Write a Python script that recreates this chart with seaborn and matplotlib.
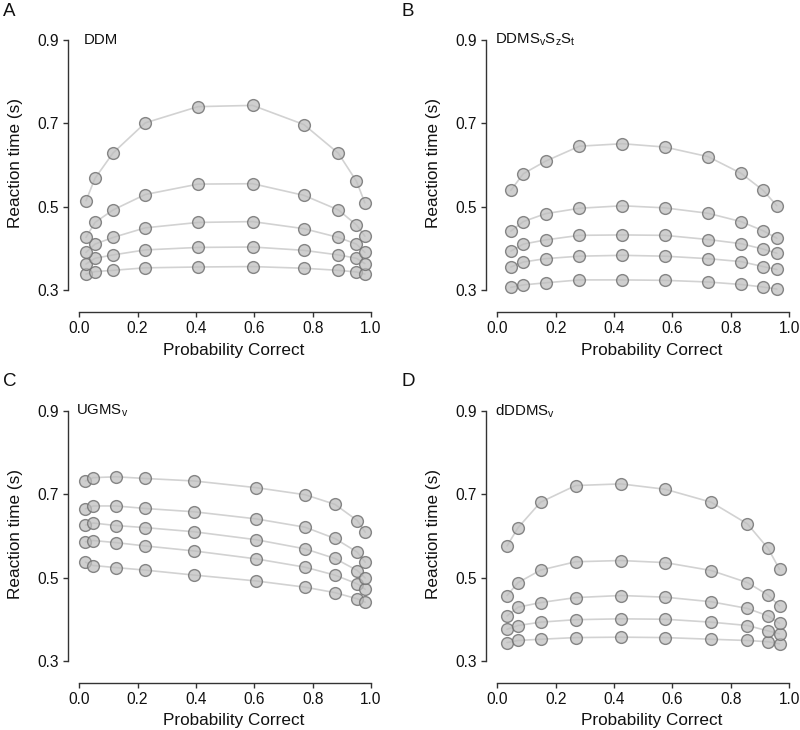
import numpy as np
import pandas as pd
import matplotlib
matplotlib.use("Agg")
import matplotlib.pyplot as plt
import seaborn as sns

# ---------------- data ----------------
quantiles = ["q10", "q30", "q50", "q70", "q90"]

ddm_p = [0.023, 0.054, 0.116, 0.226, 0.407, 0.594, 0.770, 0.888, 0.950, 0.979]
ddm_q10 = [0.338, 0.344, 0.347, 0.353, 0.355, 0.356, 0.352, 0.347, 0.343, 0.338]
ddm_q30 = [0.362, 0.376, 0.384, 0.396, 0.402, 0.403, 0.395, 0.384, 0.376, 0.363]
ddm_q50 = [0.390, 0.410, 0.426, 0.449, 0.462, 0.464, 0.447, 0.426, 0.410, 0.390]
ddm_q70 = [0.426, 0.462, 0.492, 0.529, 0.554, 0.555, 0.527, 0.492, 0.456, 0.429]
ddm_q90 = [0.514, 0.568, 0.629, 0.701, 0.740, 0.743, 0.697, 0.628, 0.561, 0.509]

ddms_p = [0.046, 0.089, 0.165, 0.281, 0.428, 0.574, 0.722, 0.835, 0.911, 0.958]
ddms_q10 = [0.306, 0.312, 0.317, 0.324, 0.324, 0.323, 0.319, 0.313, 0.307, 0.302]
ddms_q30 = [0.355, 0.367, 0.375, 0.381, 0.383, 0.381, 0.375, 0.368, 0.356, 0.349]
ddms_q50 = [0.393, 0.410, 0.420, 0.431, 0.432, 0.431, 0.421, 0.411, 0.398, 0.388]
ddms_q70 = [0.441, 0.464, 0.483, 0.496, 0.502, 0.497, 0.484, 0.464, 0.442, 0.424]
ddms_q90 = [0.539, 0.579, 0.609, 0.645, 0.651, 0.643, 0.620, 0.580, 0.539, 0.502]

ugm_p = [0.021, 0.048, 0.126, 0.226, 0.394, 0.606, 0.774, 0.876, 0.953, 0.980]
ugm_q10 = [0.537, 0.529, 0.524, 0.518, 0.506, 0.492, 0.477, 0.464, 0.449, 0.441]
ugm_q30 = [0.586, 0.589, 0.584, 0.576, 0.564, 0.545, 0.525, 0.506, 0.485, 0.472]
ugm_q50 = [0.626, 0.631, 0.625, 0.620, 0.610, 0.591, 0.569, 0.546, 0.517, 0.499]
ugm_q70 = [0.665, 0.672, 0.672, 0.666, 0.658, 0.641, 0.621, 0.594, 0.561, 0.537]
ugm_q90 = [0.732, 0.740, 0.742, 0.738, 0.732, 0.716, 0.699, 0.676, 0.637, 0.609]

dddm_p = [0.033, 0.071, 0.148, 0.268, 0.423, 0.576, 0.733, 0.857, 0.928, 0.967]
dddm_q10 = [0.344, 0.349, 0.352, 0.356, 0.357, 0.356, 0.352, 0.349, 0.346, 0.341]
dddm_q30 = [0.376, 0.385, 0.393, 0.399, 0.401, 0.400, 0.393, 0.385, 0.372, 0.365]
dddm_q50 = [0.408, 0.429, 0.440, 0.452, 0.457, 0.453, 0.442, 0.426, 0.408, 0.390]
dddm_q70 = [0.457, 0.488, 0.518, 0.538, 0.541, 0.536, 0.517, 0.488, 0.458, 0.432]
dddm_q90 = [0.576, 0.620, 0.681, 0.721, 0.725, 0.712, 0.681, 0.629, 0.570, 0.520]

panel_letters = ["A", "B", "C", "D"]
model_titles = ["DDM",
                r"DDMS$_\mathregular{v}$S$_\mathregular{z}$S$_\mathregular{t}$",
                r"UGMS$_\mathregular{v}$",
                r"dDDMS$_\mathregular{v}$"]
x_ticks = [0.0, 0.2, 0.4, 0.6, 0.8, 1.0]
y_ticks = [0.3, 0.5, 0.7, 0.9]
x_label = "Probability Correct"
y_label = "Reaction time (s)"

panels = [
    (ddm_p, [ddm_q10, ddm_q30, ddm_q50, ddm_q70, ddm_q90]),
    (ddms_p, [ddms_q10, ddms_q30, ddms_q50, ddms_q70, ddms_q90]),
    (ugm_p, [ugm_q10, ugm_q30, ugm_q50, ugm_q70, ugm_q90]),
    (dddm_p, [dddm_q10, dddm_q30, dddm_q50, dddm_q70, dddm_q90]),
]

# ---------------- style ----------------
sns.set_style("ticks")
plt.rcParams["font.family"] = ["Liberation Sans", "DejaVu Sans"]
plt.rcParams["mathtext.default"] = "regular"
plt.rcParams["mathtext.fontset"] = "custom"
plt.rcParams["mathtext.rm"] = "Liberation Sans"

W, H = 800, 730
fig = plt.figure(figsize=(W / 100, H / 100), dpi=100)

# axes rectangles in pixels: left, top, width, height
rects = [(67.6, 30.0), (485.7, 30.0), (67.6, 401.0), (485.7, 401.0)]
aw, ah = 315.1, 269.9
title_dx = [15.7, 9.3, 8.4, 9.3]
letter_pos = [(3, 12), (402, 12), (3, 382), (402, 382)]

spine_col = "#333333"
line_col = "#d2d2d2"
face_col = (0.74, 0.74, 0.74, 0.72)
edge_col = (0.45, 0.45, 0.45, 0.85)

for i, (px, series) in enumerate(panels):
    l, t = rects[i]
    ax = fig.add_axes([l / W, (H - t - ah) / H, aw / W, ah / H])
    df = pd.DataFrame({
        "p": np.tile(px, len(series)),
        "rt": np.concatenate(series),
        "q": np.repeat(quantiles, len(px)),
    })
    sns.lineplot(data=df, x="p", y="rt", units="q", estimator=None, sort=False,
                 color=line_col, lw=1.2, ax=ax, zorder=1)
    sns.scatterplot(data=df, x="p", y="rt", s=72, color=face_col,
                    edgecolor=edge_col, linewidth=1.0, ax=ax, zorder=2)

    ax.set_xlim(-0.04, 1.04)
    ax.set_ylim(0.276, 0.924)
    ax.set_xticks(x_ticks)
    ax.set_xticklabels([f"{v:.1f}" for v in x_ticks])
    ax.set_yticks(y_ticks)
    ax.set_yticklabels([f"{v:.1f}" for v in y_ticks])
    for s in ["top", "right"]:
        ax.spines[s].set_visible(False)
    ax.spines["left"].set_bounds(0.3, 0.9)
    ax.spines["bottom"].set_bounds(0.0, 1.0)
    ax.spines["bottom"].set_position(("outward", 8.8))
    for s in ["left", "bottom"]:
        ax.spines[s].set_color(spine_col)
        ax.spines[s].set_linewidth(1.0)
    ax.tick_params(axis="both", length=3.8, width=1.0, color=spine_col,
                   labelsize=11.2, labelcolor="#111111", pad=2.5)

    ax.set_xlabel(x_label, fontsize=12.3, color="#111111")
    ax.xaxis.set_label_coords(0.528, -(350 - 299.9) / ah)
    ax.xaxis.label.set_verticalalignment("center")
    ax.set_ylabel(y_label, fontsize=12.3, color="#111111")
    ax.yaxis.set_label_coords((15.7 - 67.6) / aw, 0.508)
    ax.yaxis.label.set_verticalalignment("center")

    ax.text(title_dx[i] / aw, (ah - 10.0) / ah, model_titles[i],
            transform=ax.transAxes, ha="left", va="center",
            fontsize=10.8, color="#111111")

    lx, ly = letter_pos[i]
    fig.text(lx / W, 1 - ly / H, panel_letters[i], ha="left", va="center",
             fontsize=13.5, color="#111111")

fig.savefig("out.png", dpi=100)
